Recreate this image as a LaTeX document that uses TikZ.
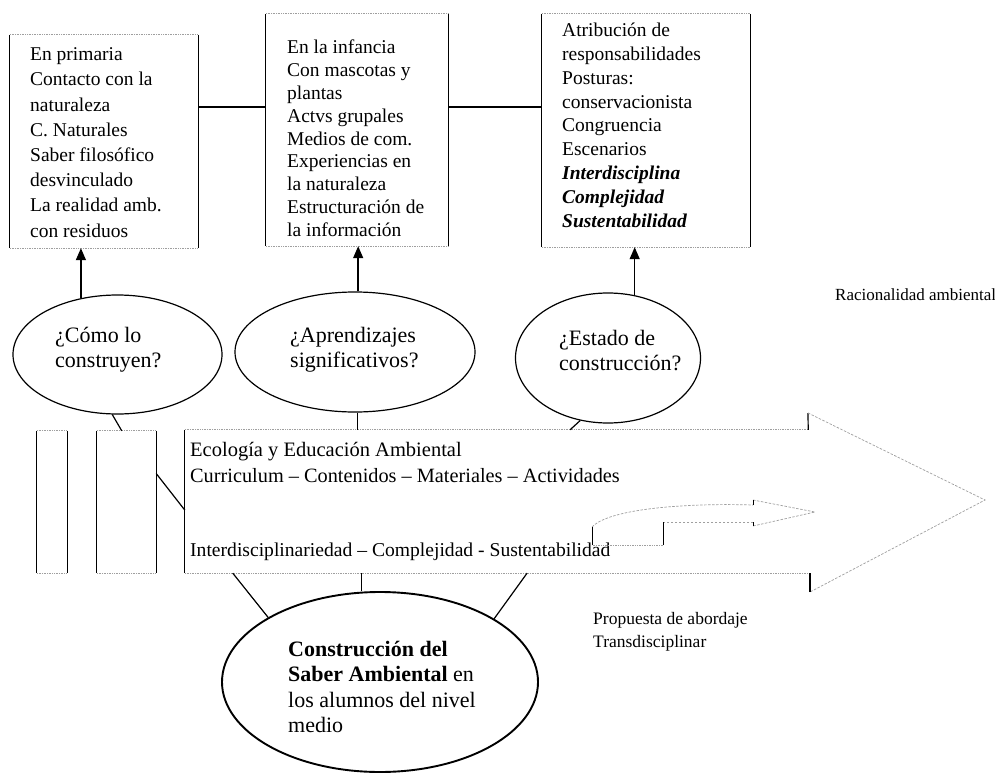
\documentclass[tikz,border=0pt]{standalone}
\usepackage{fontspec}
\setmainfont{Liberation Serif}
\usetikzlibrary{arrows.meta,calc,shapes.geometric}
\newcommand{\sidebox}[1]{%
  \draw[side] (#1.north west) -- (#1.south west) (#1.north east) -- (#1.south east);
  \draw[hedge] (#1.north west) -- (#1.north east) (#1.south west) -- (#1.south east);}
\begin{document}
\begin{tikzpicture}[x=1pt,y=-1pt,
  side/.style={line width=1.2pt,black},
  hedge/.style={line width=0.7pt,gray!75,densely dotted},
  dashy/.style={line width=0.7pt,gray!75,dash pattern=on 2.5pt off 1.5pt},
  frame/.style={draw=none,inner sep=0pt},
  boxtext/.style={anchor=north west,inner sep=0pt,align=left},
  qell/.style={ellipse,draw,line width=1.2pt,inner sep=0pt},
  qtext/.style={inner sep=0pt,align=left,font=\fontsize{22}{25}\selectfont},
  conn/.style={line width=1.2pt,black},
  upar/.style={line width=1.4pt,-{Triangle[width=10pt,length=12pt]}},
  plain/.style={anchor=west,inner sep=0pt,align=left}]
\useasboundingbox (0,0) rectangle (995,781);
\fill[white] (0,0) rectangle (995,781);

% top boxes
\node[frame,minimum width=188,minimum height=213] (b1) at (104,141.5) {};
\node[frame,minimum width=182,minimum height=232] (b2) at (357,130) {};
\node[frame,minimum width=208,minimum height=233] (b3) at (646,130.5) {};
\sidebox{b1}\sidebox{b2}\sidebox{b3}
\node[boxtext,font=\fontsize{19.5}{25.2}\selectfont] (t1) at (30,47.5) {En primaria\\Contacto con la\\naturaleza\\C. Naturales\\Saber filosófico\\desvinculado\\La realidad amb.\\con residuos};
\node[boxtext,font=\fontsize{19.5}{22.8}\selectfont] (t2) at (287,40) {En la infancia\\Con mascotas y\\plantas\\Actvs grupales\\Medios de com.\\Experiencias en\\la naturaleza\\Estructuración de\\la información};
\node[boxtext,font=\fontsize{19.5}{23.8}\selectfont] (t3) at (562,23) {Atribución de\\responsabilidades\\Posturas:\\conservacionista\\Congruencia\\Escenarios\\\textbf{\textit{Interdisciplina}}\\\textbf{\textit{Complejidad}}\\\textbf{\textit{Sustentabilidad}}};
\coordinate (hy) at (0,107);
\draw[conn] (b1.east |- hy) -- (b2.west |- hy);
\draw[conn] (b2.east |- hy) -- (b3.west |- hy);

% question ellipses
\node[qell,minimum width=209,minimum height=119] (e1) at (117.5,354.5) {};
\node[qell,minimum width=240,minimum height=120] (e2) at (355,352) {};
\node[qell,minimum width=185,minimum height=130] (e3) at (608,358) {};
\node[qtext,anchor=north west] (q1) at (55,327) {¿Cómo lo\\construyen?};
\node[qtext,anchor=north west] (q2) at (290,327) {¿Aprendizajes\\significativos?};
\node[qtext,anchor=north west] (q3) at (559,330) {¿Estado de\\construcción?};
\draw[upar] (e1.123) -- (e1.123 |- b1.south);
\draw[upar] (e2.87) -- (e2.87 |- b2.south);
\draw[upar] (e3.67) -- (e3.67 |- b3.south);

% left small rectangles
\node[frame,minimum width=30,minimum height=142] (rA) at (52,502) {};
\node[frame,minimum width=59,minimum height=142] (rB) at (126.5,502) {};
\sidebox{rA}\sidebox{rB}

% main big arrow
\node[frame,minimum width=623,minimum height=143] (m) at (496.5,501.5) {};
\coordinate (hT) at (808,413);
\coordinate (tip) at (985,500);
\coordinate (hB) at (810,592);
\draw[hedge] (m.north west) -- (m.north east);
\draw[hedge] (m.south west) -- (m.south east -| hB);
\draw[side] (m.north west) -- (m.south west);
\draw[side] (m.north east) -- (hT);
\draw[dashy] (hT) -- (tip) -- (hB);
\draw[side] (hB) -- (hB |- m.south);

\node[plain,font=\fontsize{20.5}{24}\selectfont] (eco) at (190,452) {Ecología y Educación Ambiental};
\node[plain,font=\fontsize{20.3}{24}\selectfont] (cur) at (190,476) {Curriculum – Contenidos – Materiales – Actividades};
\node[plain,font=\fontsize{19.6}{24}\selectfont] (int) at (190,552) {Interdisciplinariedad – Complejidad - Sustentabilidad};
\node[plain,font=\fontsize{17}{20}\selectfont] (rac) at (835,295) {Racionalidad ambiental};
\node[plain,font=\fontsize{17.5}{23}\selectfont] (prop) at (593,632) {Propuesta de abordaje\\Transdisciplinar};

% small hooked arrow
\coordinate (s1) at (592,545);
\coordinate (s2) at (592,527);
\coordinate (s3) at (753,505);
\coordinate (s4) at (753,500);
\coordinate (s5) at (815,512);
\coordinate (s6) at (753,526);
\coordinate (s7) at (753,522);
\coordinate (s8) at (663,522);
\coordinate (s9) at (663,545);
\draw[dashy] (s2) .. controls (610,508) and (690,503) .. (s3);
\draw[dashy] (s4) -- (s5) -- (s6);
\draw[dashy] (s7) -- (s8);
\draw[hedge] (s9) -- (s1);
\draw[line width=0.9pt] (s1) -- (s2);
\draw[line width=0.9pt] (s8) -- (s9);
\draw[line width=0.9pt] (s3) -- (s4) (s6) -- (s7);

% big ellipse
\node[ellipse,draw,line width=1.9pt,minimum width=316,minimum height=180,inner sep=0pt] (E) at (380,682) {};
\node[anchor=north west,inner sep=0pt,align=left,font=\fontsize{22}{25.5}\selectfont] (Et) at (288,641) {\textbf{Construcción del}\\\textbf{Saber Ambiental} en\\los alumnos del nivel\\medio};

% connectors
\draw[conn] (e1.265) -- ($(rB.north west)!0.42!(rB.north east)$);
\draw[conn] ($(rB.north east)!0.3!(rB.south east)$) -- ($(m.north west)!0.56!(m.south west)$);
\draw[conn] (e2.272) -- (e2.272 |- m.north);
\draw[conn] (e3.246) -- ($(m.north west)!0.618!(m.north east)$);
\draw[conn] ($(m.south west)!0.077!(m.south east)$) -- (E.150);
\draw[conn] ($(m.south west)!0.284!(m.south east)$) coordinate (mb2) -- (mb2 |- E.north);
\draw[conn] ($(m.south west)!0.549!(m.south east)$) -- (E.29);
\end{tikzpicture}
\end{document}
